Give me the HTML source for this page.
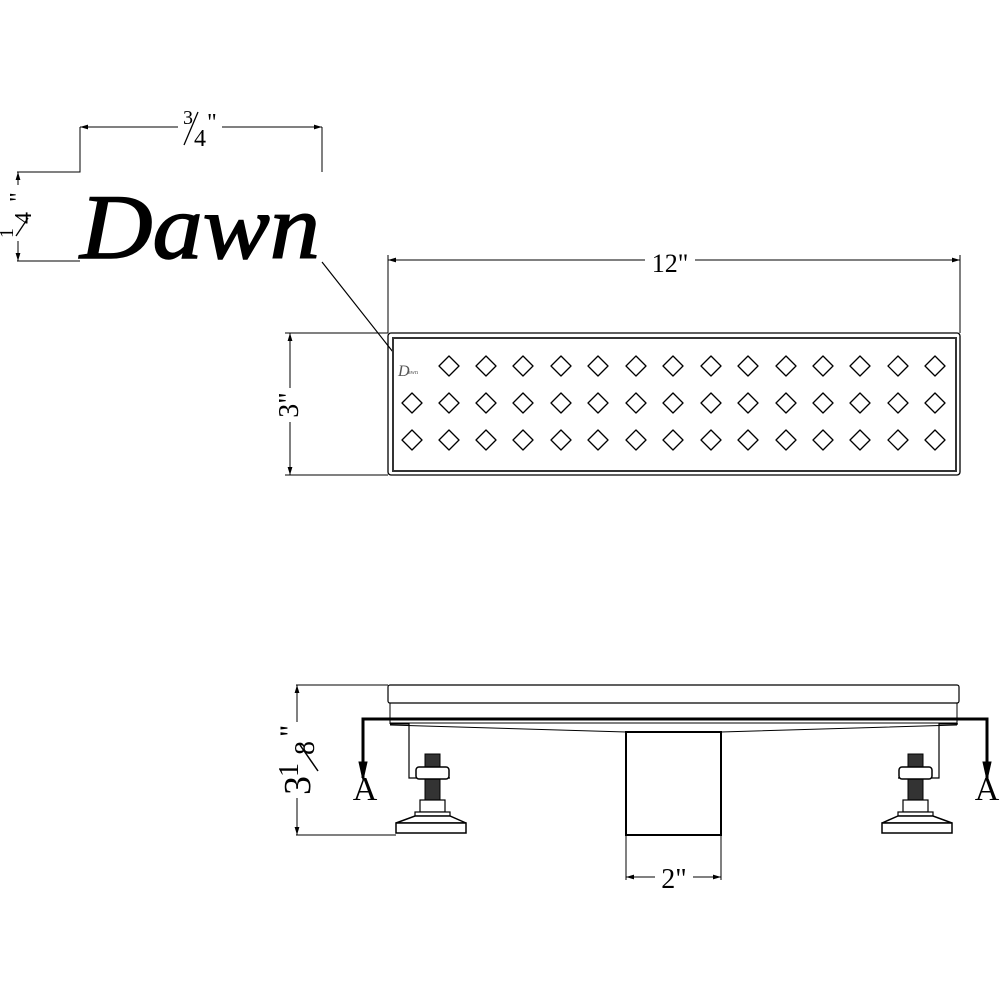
<!DOCTYPE html>
<html><head><style>body{margin:0;background:#fff}svg{display:block}</style></head>
<body>
<svg width="1000" height="1000" viewBox="0 0 1000 1000" xmlns="http://www.w3.org/2000/svg" font-family="Liberation Serif, serif">
<defs>
<marker id="ar" viewBox="0 0 10 10" refX="10" refY="5" markerWidth="8" markerHeight="8" orient="auto-start-reverse"><path d="M0,2 L10,5 L0,8 z" fill="#000"/></marker>
<g id="foot" stroke="#000" fill="#fff">
<polyline points="390,724 409,724 409,778 450,778" fill="none" stroke-width="1.2"/>
<rect x="425" y="754" width="15" height="60" fill="#333" stroke-width="1"/>
<rect x="416" y="767" width="33" height="12" rx="3" fill="#fff" stroke-width="1.5"/>
<rect x="420" y="800" width="25" height="12" fill="#fff" stroke-width="1.2"/>
<rect x="415" y="812" width="35" height="4" stroke-width="1.2"/>
<path d="M396,823 L415,816 L450,816 L466,823 Z" stroke-width="1.5"/>
<rect x="396" y="823" width="70" height="10" stroke-width="1.5"/>
</g>
</defs>

<g stroke="#000" stroke-width="1" fill="none">
<line x1="80" y1="127" x2="322" y2="127" marker-start="url(#ar)" marker-end="url(#ar)"/>
<polyline points="80,127 80,172 17,172"/>
<line x1="322" y1="127" x2="322" y2="172"/>
<line x1="18" y1="172" x2="18" y2="261" marker-start="url(#ar)" marker-end="url(#ar)"/>
<line x1="17" y1="261" x2="80" y2="261"/>
<line x1="322" y1="262" x2="393" y2="352" stroke-width="1.2"/>
</g>
<rect x="178" y="108" width="44" height="40" fill="#fff"/>
<text x="183" y="124" font-size="20">3</text>
<line x1="184" y1="145" x2="198" y2="112" stroke="#000" stroke-width="1.3"/>
<text x="194" y="146" font-size="24">4</text>
<text x="207" y="130" font-size="24">"</text>
<rect x="0" y="185" width="36" height="56" fill="#fff"/>
<g transform="translate(0,240) rotate(-90)">
<text x="2" y="13" font-size="20">1</text>
<line x1="4" y1="16" x2="22" y2="28" stroke="#000" stroke-width="1.3"/>
<text x="16" y="31" font-size="24">4</text>
<text x="38" y="26" font-size="24">"</text>
</g>
<text x="80" y="258" font-size="92" font-style="italic" font-family="Liberation Serif, serif" stroke="#000" stroke-width="1.5" textLength="240" lengthAdjust="spacingAndGlyphs">Dawn</text>

<g stroke="#000" fill="none">
<line x1="388" y1="255" x2="388" y2="333" stroke-width="1"/>
<line x1="960" y1="255" x2="960" y2="333" stroke-width="1"/>
<line x1="388" y1="260" x2="960" y2="260" marker-start="url(#ar)" marker-end="url(#ar)" stroke-width="1"/>
<line x1="285" y1="333" x2="388" y2="333" stroke-width="1"/>
<line x1="285" y1="475" x2="388" y2="475" stroke-width="1"/>
<line x1="290" y1="333" x2="290" y2="475" marker-start="url(#ar)" marker-end="url(#ar)" stroke-width="1"/>
<rect x="388" y="333" width="572" height="142" rx="3" stroke-width="1.3"/>
<rect x="393" y="338" width="563" height="133" stroke-width="2" stroke="#333"/>
</g>
<rect x="645" y="248" width="50" height="26" fill="#fff"/>
<text x="670" y="272" font-size="26" text-anchor="middle">12"</text>
<rect x="276" y="388" width="28" height="34" fill="#fff"/>
<text transform="translate(298,405) rotate(-90)" font-size="28" text-anchor="middle">3"</text>
<text x="398" y="376" font-size="16" font-style="italic" fill="#555">D</text>
<text x="408" y="374" font-size="6" fill="#555">awn</text>
<g stroke="#000" stroke-width="1.3" fill="none" stroke-linejoin="round">
<path d="M449,356l10,10-10,10-10-10z M486,356l10,10-10,10-10-10z M523,356l10,10-10,10-10-10z M561,356l10,10-10,10-10-10z M598,356l10,10-10,10-10-10z M636,356l10,10-10,10-10-10z M673,356l10,10-10,10-10-10z M711,356l10,10-10,10-10-10z M748,356l10,10-10,10-10-10z M786,356l10,10-10,10-10-10z M823,356l10,10-10,10-10-10z M860,356l10,10-10,10-10-10z M898,356l10,10-10,10-10-10z M935,356l10,10-10,10-10-10z"/>
<path d="M412,393l10,10-10,10-10-10z M449,393l10,10-10,10-10-10z M486,393l10,10-10,10-10-10z M523,393l10,10-10,10-10-10z M561,393l10,10-10,10-10-10z M598,393l10,10-10,10-10-10z M636,393l10,10-10,10-10-10z M673,393l10,10-10,10-10-10z M711,393l10,10-10,10-10-10z M748,393l10,10-10,10-10-10z M786,393l10,10-10,10-10-10z M823,393l10,10-10,10-10-10z M860,393l10,10-10,10-10-10z M898,393l10,10-10,10-10-10z M935,393l10,10-10,10-10-10z"/>
<path d="M412,430l10,10-10,10-10-10z M449,430l10,10-10,10-10-10z M486,430l10,10-10,10-10-10z M523,430l10,10-10,10-10-10z M561,430l10,10-10,10-10-10z M598,430l10,10-10,10-10-10z M636,430l10,10-10,10-10-10z M673,430l10,10-10,10-10-10z M711,430l10,10-10,10-10-10z M748,430l10,10-10,10-10-10z M786,430l10,10-10,10-10-10z M823,430l10,10-10,10-10-10z M860,430l10,10-10,10-10-10z M898,430l10,10-10,10-10-10z M935,430l10,10-10,10-10-10z"/>
</g>

<g stroke="#000" fill="none">
<line x1="296" y1="685" x2="388" y2="685" stroke-width="1"/>
<line x1="296" y1="835" x2="396" y2="835" stroke-width="1"/>
<line x1="297" y1="685" x2="297" y2="835" marker-start="url(#ar)" marker-end="url(#ar)" stroke-width="1"/>
<rect x="388" y="685" width="571" height="18" rx="2" stroke-width="1.2"/>
<line x1="390" y1="703" x2="390" y2="724" stroke-width="1"/>
<line x1="957" y1="703" x2="957" y2="724" stroke-width="1"/>
<line x1="390" y1="723" x2="957" y2="723" stroke-width="1"/>
<polyline points="390,725 626,732 721,732 957,725" stroke-width="1"/>
<polyline points="363,778 363,719 987,719 987,778" stroke-width="3"/>
<path d="M359,762 L363,780 L367,762 Z M983,762 L987,780 L991,762 Z" fill="#000"/>
<rect x="626" y="732" width="95" height="103" stroke-width="2"/>
<line x1="626" y1="835" x2="626" y2="880" stroke-width="1"/>
<line x1="721" y1="835" x2="721" y2="880" stroke-width="1"/>
<line x1="626" y1="877" x2="721" y2="877" marker-start="url(#ar)" marker-end="url(#ar)" stroke-width="1"/>
</g>
<use href="#foot"/>
<use href="#foot" transform="translate(1348,0) scale(-1,1)"/>
<text x="365" y="800" font-size="34" text-anchor="middle">A</text>
<text x="987" y="800" font-size="34" text-anchor="middle">A</text>
<rect x="278" y="722" width="40" height="76" fill="#fff"/>
<g transform="translate(0,795) rotate(-90)">
<text x="0" y="310" font-size="38">3</text>
<text x="18" y="298" font-size="28">1</text>
<line x1="24" y1="318" x2="50" y2="300" stroke="#000" stroke-width="1.5"/>
<text x="40" y="314" font-size="28">8</text>
<text x="58" y="300" font-size="30">"</text>
</g>
<rect x="655" y="862" width="38" height="28" fill="#fff"/>
<text x="674" y="888" font-size="28" text-anchor="middle">2"</text>
</svg>
</body></html>
